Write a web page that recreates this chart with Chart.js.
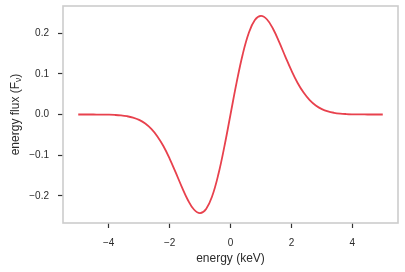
<!DOCTYPE html>
<html>
<head>
<meta charset="utf-8">
<script src="https://cdn.jsdelivr.net/npm/chart.js@4"></script>
<style>
  html, body { margin: 0; padding: 0; background: #fff; }
  #wrap { width: 405px; height: 272px; }
</style>
</head>
<body>
<div id="wrap"><canvas id="grafico" width="405" height="272"></canvas></div>
<script>
// Dados
const energia = [
  -5.0, -4.8, -4.6, -4.4, -4.2, -4.0, -3.8, -3.6, -3.4, -3.2, -3.0,
  -2.8, -2.6, -2.4, -2.2, -2.0, -1.8, -1.6, -1.4, -1.2, -1.0,
  -0.8, -0.6, -0.4, -0.2, 0.0, 0.2, 0.4, 0.6, 0.8, 1.0,
  1.2, 1.4, 1.6, 1.8, 2.0, 2.2, 2.4, 2.6, 2.8, 3.0,
  3.2, 3.4, 3.6, 3.8, 4.0, 4.2, 4.4, 4.6, 4.8, 5.0
];
const fluxo = [
  0.0, 0.0, 0.0, -0.0001, -0.0002, -0.0005, -0.0011, -0.0022, -0.0042, -0.0076, -0.0133,
  -0.0222, -0.0354, -0.0539, -0.0782, -0.1083, -0.1425, -0.1779, -0.2102, -0.2337, -0.2426,
  -0.2324, -0.2005, -0.1477, -0.0784, 0.0, 0.0784, 0.1477, 0.2005, 0.2324, 0.2426,
  0.2337, 0.2102, 0.1779, 0.1425, 0.1083, 0.0782, 0.0539, 0.0354, 0.0222, 0.0133,
  0.0076, 0.0042, 0.0022, 0.0011, 0.0005, 0.0002, 0.0001, 0.0, 0.0, 0.0
];
const ticksX = [-4, -2, 0, 2, 4];
const ticksY = [-0.2, -0.1, 0.0, 0.1, 0.2];

const fonte = '"Liberation Sans", Arial, sans-serif';
const corTexto = '#2b2b2b';

function menos(v, casas) {
  const s = casas ? Math.abs(v).toFixed(casas) : String(Math.abs(v));
  return (v < 0 ? '\u2212' : '') + s;
}

// moldura cinza + títulos dos eixos
const moldura = {
  id: 'moldura',
  afterDraw(chart) {
    const { ctx, chartArea: a } = chart;
    ctx.save();
    ctx.strokeStyle = '#cccccc';
    ctx.lineWidth = 1.6;
    ctx.strokeRect(a.left, a.top, a.right - a.left, a.bottom - a.top);

    ctx.fillStyle = corTexto;
    ctx.font = '12px ' + fonte;
    ctx.textAlign = 'center';
    ctx.textBaseline = 'middle';
    ctx.fillText('energy (keV)', (a.left + a.right) / 2, 259);

    // título do eixo y com subscrito
    const p1 = 'energy flux (F', sub = '\u03bd', p2 = ')';
    ctx.font = '12px ' + fonte;
    const w1 = ctx.measureText(p1).width, w3 = ctx.measureText(p2).width;
    ctx.font = '8.5px ' + fonte;
    const w2 = ctx.measureText(sub).width;
    const total = w1 + w2 + w3;
    ctx.translate(14, (a.top + a.bottom) / 2);
    ctx.rotate(-Math.PI / 2);
    ctx.textAlign = 'left';
    ctx.textBaseline = 'alphabetic';
    let x = -total / 2;
    ctx.font = '12px ' + fonte;
    ctx.fillText(p1, x, 4.5);
    x += w1;
    ctx.font = '8.5px ' + fonte;
    ctx.fillText(sub, x, 7);
    x += w2;
    ctx.font = '12px ' + fonte;
    ctx.fillText(p2, x, 4.5);
    ctx.restore();
  }
};

new Chart(document.getElementById('grafico'), {
  type: 'line',
  data: {
    datasets: [{
      data: energia.map((e, i) => ({ x: e, y: fluxo[i] })),
      borderColor: '#e8414d',
      borderWidth: 1.8,
      pointRadius: 0,
      tension: 0.4,
      fill: false
    }]
  },
  options: {
    responsive: false,
    animation: false,
    layout: { padding: { top: 6, right: 7, left: 0, bottom: 0 } },
    plugins: { legend: { display: false }, tooltip: { enabled: false } },
    scales: {
      x: {
        type: 'linear',
        min: -5.5,
        max: 5.5,
        afterBuildTicks: s => { s.ticks = ticksX.map(v => ({ value: v })); },
        afterFit: s => { s.height = 49; s.paddingLeft = 0; s.paddingRight = 0; },
        border: { display: false },
        grid: { drawOnChartArea: false, drawTicks: true, tickLength: 5, tickColor: '#333333', tickWidth: 1.2 },
        ticks: {
          padding: 9,
          color: corTexto,
          font: { family: fonte, size: 10 },
          maxRotation: 0,
          callback: v => menos(v)
        }
      },
      y: {
        type: 'linear',
        min: -0.2669,
        max: 0.2669,
        afterBuildTicks: s => { s.ticks = ticksY.map(v => ({ value: v })); },
        afterFit: s => { s.width = 63; s.paddingTop = 0; s.paddingBottom = 0; },
        border: { display: false },
        grid: { drawOnChartArea: false, drawTicks: true, tickLength: 5, tickColor: '#333333', tickWidth: 1.2 },
        ticks: {
          padding: 9,
          color: corTexto,
          font: { family: fonte, size: 10 },
          callback: v => menos(v, 1)
        }
      }
    }
  },
  plugins: [moldura]
});
</script>
</body>
</html>
